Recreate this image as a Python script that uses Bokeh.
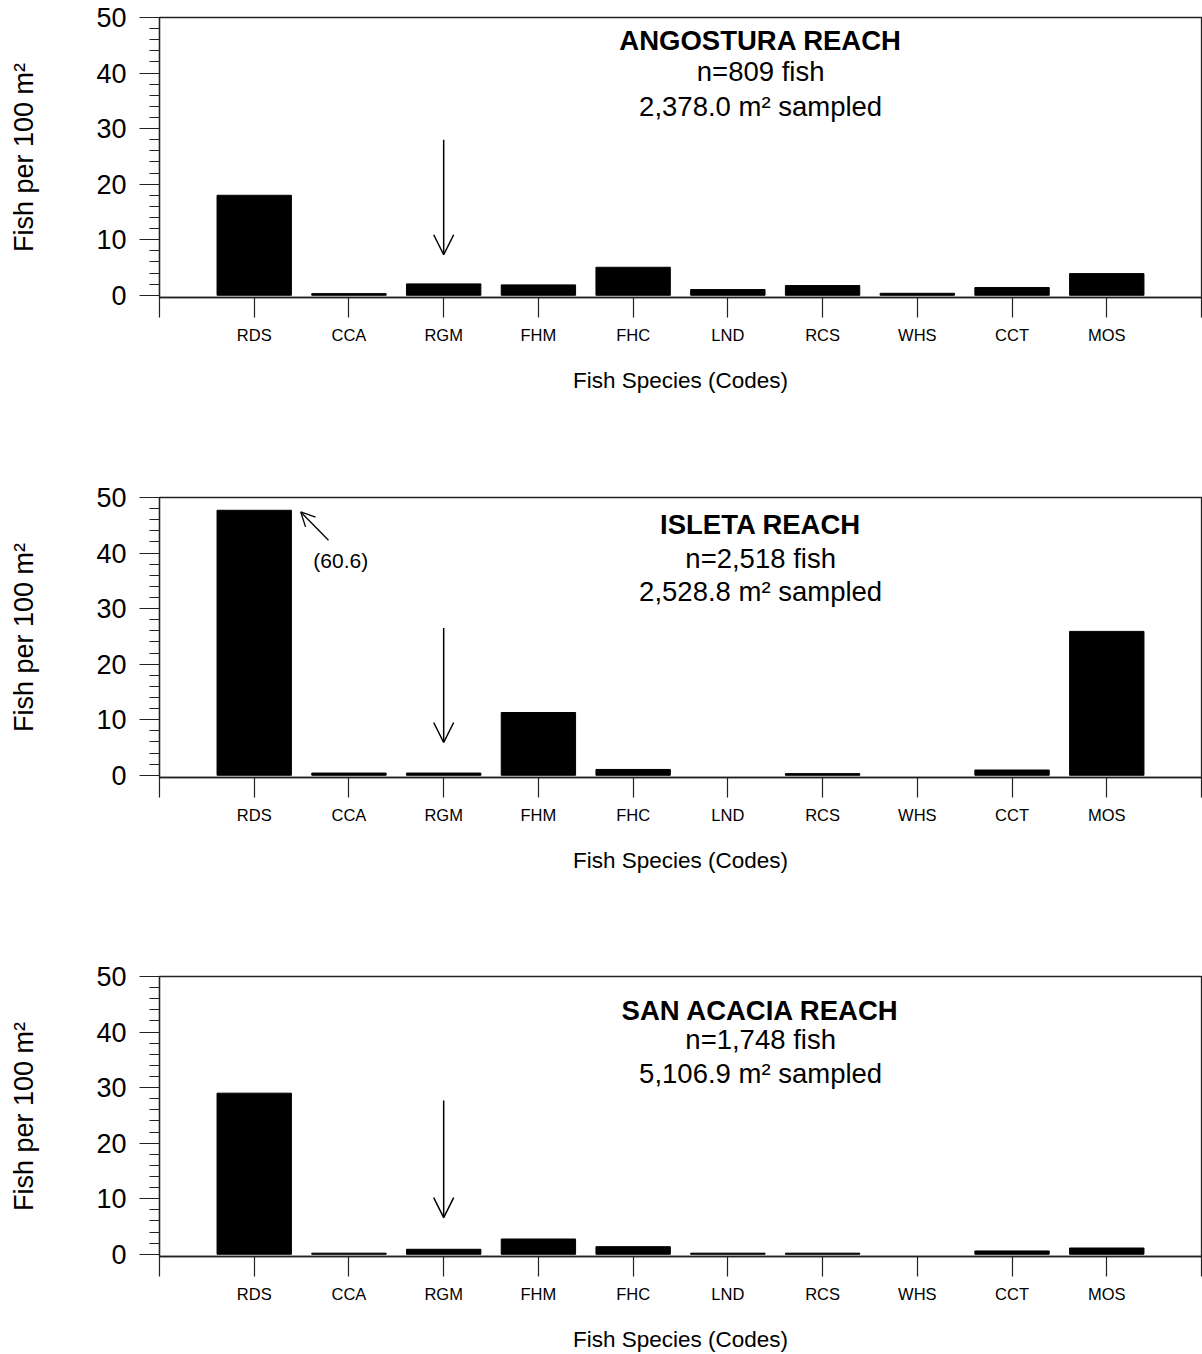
from bokeh.plotting import figure
from bokeh.layouts import column
from bokeh.models import FixedTicker, Label, Arrow, OpenHead, Range1d
from bokeh.embed import file_html
from bokeh.resources import INLINE

# ---------------- data ----------------
species = ["RDS", "CCA", "RGM", "FHM", "FHC", "LND", "RCS", "WHS", "CCT", "MOS"]
angostura = [18.0, 0.3, 2.05, 1.87, 5.04, 1.03, 1.75, 0.36, 1.39, 3.9]
isleta = [60.6, 0.4, 0.4, 11.3, 1.05, 0.0, 0.3, 0.0, 0.95, 25.9]
san_acacia = [29.0, 0.2, 0.9, 2.75, 1.37, 0.2, 0.2, 0.0, 0.6, 1.13]

reach_names = ["ANGOSTURA REACH", "ISLETA REACH", "SAN ACACIA REACH"]
fish_counts = ["n=809 fish", "n=2,518 fish", "n=1,748 fish"]
areas_sampled = ["2,378.0 m\u00b2 sampled", "2,528.8 m\u00b2 sampled", "5,106.9 m\u00b2 sampled"]

y_ticks = [0, 10, 20, 30, 40, 50]
y_minor_ticks = list(range(0, 51, 2))
broken_bar_top = 47.7          # Isleta RDS bar is drawn broken here; true value is labelled
highlight_species = "RGM"      # species marked with an arrow

FONT = "Liberation Sans"


def make_panel(values, name, count, area, text_ys, arrow_ys, border_top, border_bottom,
               xlab_standoff, broken_note=None):
    p = figure(frame_width=1042, frame_height=280,
               min_border_left=159, min_border_right=1, min_border_top=border_top,
               min_border_bottom=border_bottom,
               x_range=Range1d(0, 11), y_range=Range1d(-0.4, 50),
               output_backend="svg", toolbar_location=None)
    p.xgrid.visible = False
    p.ygrid.visible = False
    p.outline_line_color = "#222222"
    p.outline_line_width = 1.3
    p.background_fill_color = "white"
    p.border_fill_color = "white"

    xs = [i + 1 for i, v in enumerate(values) if v > 0]
    tops = [min(v, broken_bar_top) for v in values if v > 0]
    p.vbar(x=xs, top=tops, bottom=0, width=0.785,
           fill_color="black", line_color="black", line_width=1)

    # y axis
    ya = p.yaxis[0]
    ya.ticker = FixedTicker(ticks=y_ticks, minor_ticks=y_minor_ticks)
    ya.major_tick_out = 20
    ya.major_tick_in = 0
    ya.minor_tick_out = 10
    ya.minor_tick_in = 0
    ya.axis_line_width = 1.3
    ya.axis_line_color = "#222222"
    ya.major_tick_line_width = 1.2
    ya.minor_tick_line_width = 1.2
    ya.major_tick_line_color = "#222222"
    ya.minor_tick_line_color = "#222222"
    ya.major_label_text_font = FONT
    ya.major_label_text_font_size = "27px"
    ya.major_label_text_color = "black"
    ya.major_label_standoff = 13
    ya.axis_label = "Fish per 100 m\u00b2"
    ya.axis_label_text_font = FONT
    ya.axis_label_text_font_size = "27px"
    ya.axis_label_text_font_style = "normal"
    ya.axis_label_text_color = "black"
    ya.axis_label_standoff = 54

    # x axis
    xa = p.xaxis[0]
    xa.ticker = FixedTicker(ticks=list(range(0, len(species) + 2)))
    overrides = {0: "", len(species) + 1: ""}
    for i, s in enumerate(species):
        overrides[i + 1] = s
    xa.major_label_overrides = overrides
    xa.major_tick_out = 20
    xa.major_tick_in = 0
    xa.minor_tick_line_color = None
    xa.axis_line_width = 1.3
    xa.axis_line_color = "#222222"
    xa.major_tick_line_width = 1.2
    xa.major_tick_line_color = "#222222"
    xa.major_label_text_font = FONT
    xa.major_label_text_font_size = "16.5px"
    xa.major_label_text_color = "black"
    xa.major_label_standoff = 8
    xa.axis_label = "Fish Species (Codes)"
    xa.axis_label_text_font = FONT
    xa.axis_label_text_font_size = "22.5px"
    xa.axis_label_text_font_style = "normal"
    xa.axis_label_text_color = "black"
    xa.axis_label_standoff = xlab_standoff

    # titles inside the panel
    for txt, ty, style in zip([name, count, area], text_ys, ["bold", "normal", "normal"]):
        p.add_layout(Label(x=6.346, y=ty, text=txt, text_align="center", text_baseline="middle",
                           text_font=FONT, text_font_size="27.5px", text_font_style=style,
                           text_color="black"))

    # arrow marking RGM
    ax = species.index(highlight_species) + 1
    p.add_layout(Arrow(end=OpenHead(size=20, line_width=1.5, line_color="black"),
                       x_start=ax, y_start=arrow_ys[0], x_end=ax, y_end=arrow_ys[1],
                       line_width=1.5, line_color="black"))

    if broken_note is not None:
        (xs0, ys0, xe0, ye0, tx, ty, label) = broken_note
        p.add_layout(Arrow(end=OpenHead(size=14, line_width=1.3, line_color="black"),
                           x_start=xs0, y_start=ys0, x_end=xe0, y_end=ye0,
                           line_width=1.3, line_color="black"))
        p.add_layout(Label(x=tx, y=ty, text=label, text_align="center", text_baseline="middle",
                           text_font=FONT, text_font_size="21px", text_color="black"))
    return p


p1 = make_panel(angostura, reach_names[0], fish_counts[0], areas_sampled[0],
                [45.8, 40.3, 34.0], [28.0, 7.3], 17, 171, 21)
p2 = make_panel(isleta, reach_names[1], fish_counts[1], areas_sampled[1],
                [45.1, 39.1, 33.1], [26.5, 5.9], 29, 171, 21,
                broken_note=(1.784, 42.3, 1.491, 47.4, 1.913, 38.7, "(%.1f)" % isleta[0]))
p3 = make_panel(san_acacia, reach_names[2], fish_counts[2], areas_sampled[2],
                [43.85, 38.7, 32.5], [27.7, 6.6], 28, 98, 21)

layout = column(p1, p2, p3, spacing=0)
open("out.html", "w").write(file_html(layout, INLINE))
